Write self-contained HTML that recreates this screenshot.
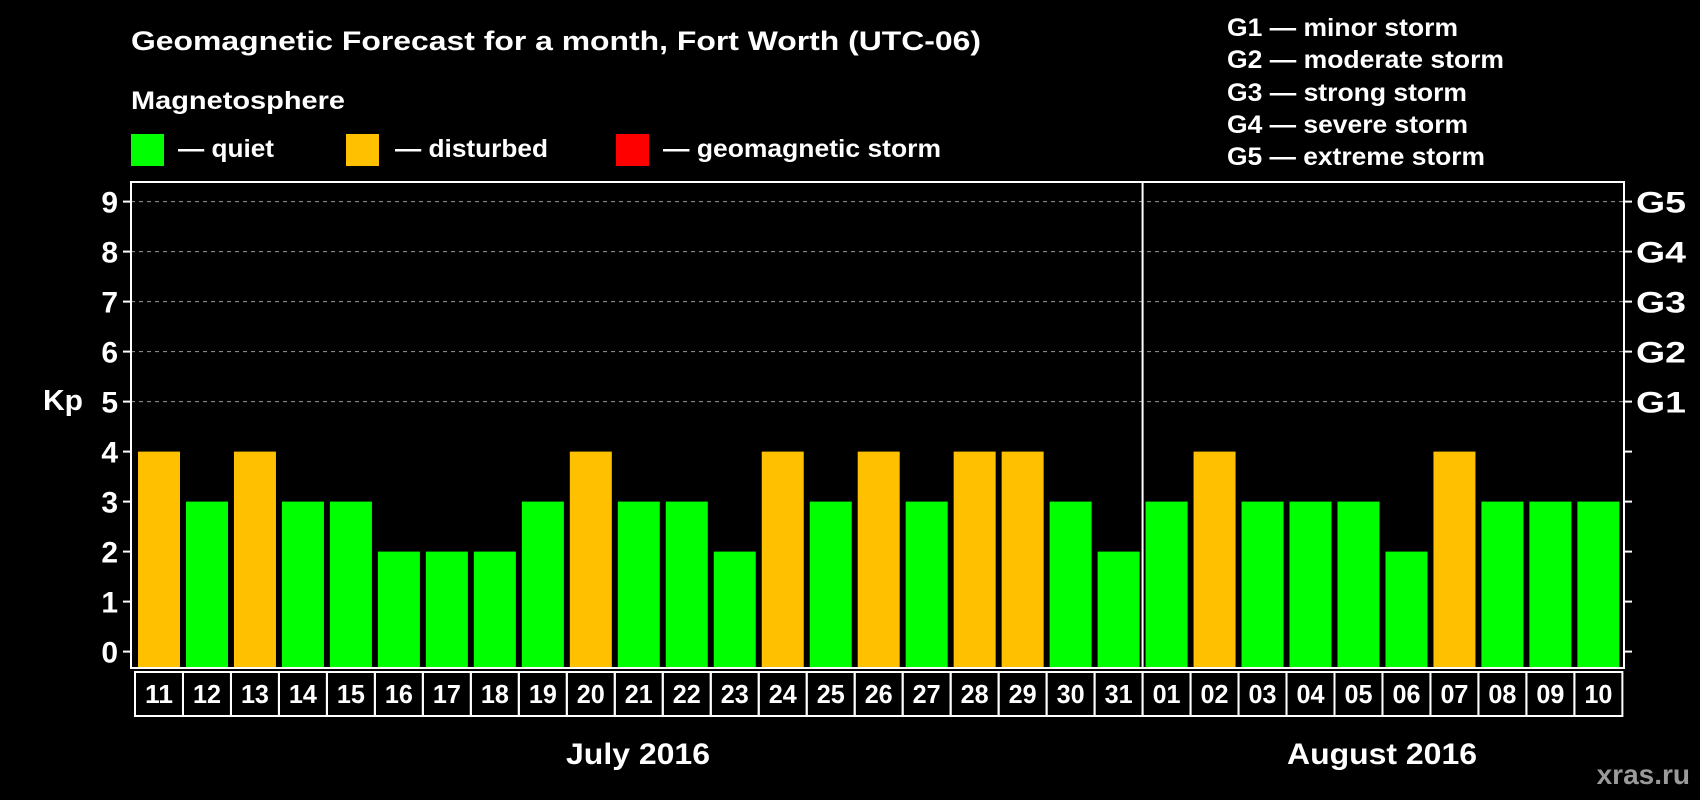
<!DOCTYPE html>
<html><head><meta charset="utf-8"><style>
html,body{margin:0;padding:0;background:#000;}
svg{display:block;font-family:"Liberation Sans",Arial,sans-serif;font-weight:bold;}
</style></head><body>
<svg id="chart" width="1700" height="800" viewBox="0 0 1700 800" xmlns="http://www.w3.org/2000/svg">
<rect width="1700" height="800" fill="#000"/>
<text x="131" y="50" fill="#fff" font-size="27" textLength="850" lengthAdjust="spacingAndGlyphs">Geomagnetic Forecast for a month, Fort Worth (UTC-06)</text>
<text x="131" y="109" fill="#fff" font-size="25" textLength="214" lengthAdjust="spacingAndGlyphs">Magnetosphere</text>
<g><rect x="131" y="134" width="33" height="32" fill="#00ff00"/><text x="178" y="157" fill="#fff" font-size="25" textLength="96" lengthAdjust="spacingAndGlyphs">— quiet</text></g>
<g><rect x="346" y="134" width="33" height="32" fill="#ffc000"/><text x="395" y="157" fill="#fff" font-size="25" textLength="153" lengthAdjust="spacingAndGlyphs">— disturbed</text></g>
<g><rect x="616" y="134" width="33" height="32" fill="#ff0000"/><text x="663" y="157" fill="#fff" font-size="25" textLength="278" lengthAdjust="spacingAndGlyphs">— geomagnetic storm</text></g>
<g fill="#fff" font-size="25" lengthAdjust="spacingAndGlyphs">
<text x="1227" y="36" textLength="231" lengthAdjust="spacingAndGlyphs">G1 — minor storm</text>
<text x="1227" y="68" textLength="277" lengthAdjust="spacingAndGlyphs">G2 — moderate storm</text>
<text x="1227" y="101" textLength="240" lengthAdjust="spacingAndGlyphs">G3 — strong storm</text>
<text x="1227" y="133" textLength="241" lengthAdjust="spacingAndGlyphs">G4 — severe storm</text>
<text x="1227" y="165" textLength="258" lengthAdjust="spacingAndGlyphs">G5 — extreme storm</text>
</g>
<text x="43" y="410" fill="#fff" font-size="29" textLength="40" lengthAdjust="spacingAndGlyphs">Kp</text>
<text x="566" y="764" fill="#fff" font-size="30" textLength="144" lengthAdjust="spacingAndGlyphs">July 2016</text>
<text x="1287" y="764" fill="#fff" font-size="30" textLength="190" lengthAdjust="spacingAndGlyphs">August 2016</text>
<text x="1690" y="784" fill="#9a9a9a" font-size="28" text-anchor="end">xras.ru</text>
<g id="plot"></g>
</svg>
<script>
const days = ["11","12","13","14","15","16","17","18","19","20","21","22","23","24","25","26","27","28","29","30","31","01","02","03","04","05","06","07","08","09","10"];
const kpValues = [4,3,4,3,3,2,2,2,3,4,3,3,2,4,3,4,3,4,4,3,2,3,4,3,3,3,2,4,3,3,3];
const yTicks = [0,1,2,3,4,5,6,7,8,9];
const gLabels = ["G1","G2","G3","G4","G5"];
const gLevels = [5,6,7,8,9];
const monthSplitIndex = 21;

const NS = "http://www.w3.org/2000/svg";
const plot = document.getElementById("plot");
const L = 131, R = 1624, T = 182, B = 668;
const barW = 42, pitch = 47.98, firstBar = 138;
function yScale(v){ return 651.6 - v * 50.0; }
function xBand(i){ return firstBar + i * pitch; }
function mk(tag, attrs, parent){
  const e = document.createElementNS(NS, tag);
  for (const k in attrs) e.setAttribute(k, attrs[k]);
  (parent || plot).appendChild(e);
  return e;
}
gLevels.forEach(v => {
  const l = mk("line", {x1:L, x2:R, y1:yScale(v), y2:yScale(v), stroke:"#999", "stroke-width":1, "stroke-dasharray":"4,4"});
  
  
});
kpValues.forEach((v, i) => {
  const color = v >= 5 ? "#ff0000" : (v >= 4 ? "#ffc000" : "#00ff00");
  const r = mk("rect", {x:xBand(i), y:yScale(v), width:barW, height:B - yScale(v), fill:color});
  
  
});
const fr = mk("rect", {x:L, y:T, width:R-L, height:B-T, fill:"none", stroke:"#fff", "stroke-width":2});


const divX = xBand(monthSplitIndex) - 3;
const dv = mk("line", {x1:divX, x2:divX, y1:T, y2:B, stroke:"#fff", "stroke-width":2});


yTicks.forEach(v => {
  const y = yScale(v);
  const t1 = mk("line", {x1:L-8, x2:L, y1:y, y2:y, stroke:"#fff", "stroke-width":2});
  
  
  const t2 = mk("line", {x1:R, x2:R+8, y1:y, y2:y, stroke:"#fff", "stroke-width":2});
  
  
  const tx = mk("text", {x:118, y:y+11, fill:"#fff", "font-size":30, "text-anchor":"end"});
  tx.textContent = v;
  
  
});
gLevels.forEach((v, i) => {
  const tx = mk("text", {x:1636, y:yScale(v)+11, fill:"#fff", "font-size":30, textLength:50, lengthAdjust:"spacingAndGlyphs"});
  tx.textContent = gLabels[i];
  
  
});
days.forEach((d, i) => {
  const x0 = xBand(i) - 3;
  const c = mk("rect", {x:x0, y:672, width:pitch, height:44, fill:"none", stroke:"#fff", "stroke-width":2});
  
  
  const tx = mk("text", {x:x0 + pitch/2 - 14, y:703, fill:"#fff", "font-size":26, textLength:28, lengthAdjust:"spacingAndGlyphs"});
  tx.textContent = d;
  
  
});
</script>
</body></html>
